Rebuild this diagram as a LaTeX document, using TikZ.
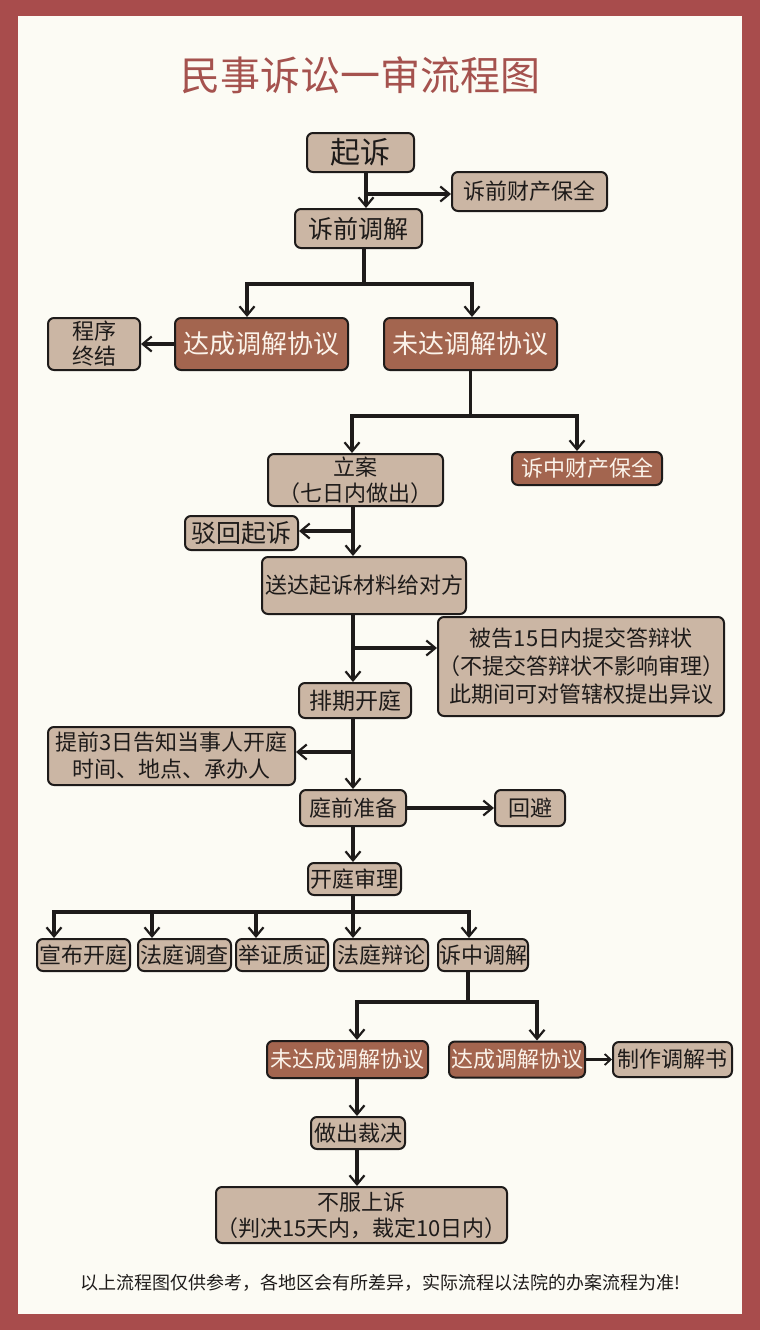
\documentclass[tikz,border=0pt]{standalone}
\usepackage{fontspec}
\setmainfont{Noto Sans CJK SC}
\usetikzlibrary{positioning,arrows.meta}
\definecolor{framered}{HTML}{A84C4C}
\definecolor{paper}{HTML}{FCFBF4}
\definecolor{tanfill}{HTML}{CBB6A4}
\definecolor{brownfill}{HTML}{A3654F}
\definecolor{titlered}{HTML}{A5524E}
\definecolor{ink}{HTML}{1E1B1A}
\definecolor{lighttext}{HTML}{FBF3EA}

\begin{document}
\begin{tikzpicture}[
  x=1pt, y=-1pt, on grid,
  tanbox/.style={draw=ink, line width=2pt, rounded corners=6pt, fill=tanfill, text=ink,
    inner sep=0pt, align=center, font=\fontsize{22}{26}\selectfont},
  brownbox/.style={tanbox, fill=brownfill, text=lighttext},
  wire/.style={draw=ink, line width=3.2pt},
  arr/.style={wire, -{Straight Barb[length=9pt,width=15pt,line width=2.2pt]}},
  thinarr/.style={draw=ink, line width=2.2pt, -{Straight Barb[length=6pt,width=11pt,line width=1.8pt]}}
]
\useasboundingbox (0,0) rectangle (760,1330);
\fill[framered] (0,0) rectangle (760,1330);
\fill[paper] (18,16) rectangle (742,1314);

\node[font=\fontsize{40}{44}\selectfont, text=titlered] (title) at (360,75) {民事诉讼一审流程图};

\node[tanbox, minimum width=107pt, minimum height=39pt, font=\fontsize{30}{32}\selectfont] (qisu) at (360.5,152.5) {起诉};
\node[tanbox, minimum width=155pt, minimum height=39pt, below right=39pt and 169pt of qisu] (sqbq) {诉前财产保全};
\node[tanbox, minimum width=127pt, minimum height=39pt, font=\fontsize{25}{28}\selectfont, below left=76pt and 2pt of qisu] (sqtj) {诉前调解};
\node[brownbox, minimum width=173pt, minimum height=52pt, font=\fontsize{26}{28}\selectfont, below left=115.5pt and 97pt of sqtj] (dacheng) {达成调解协议};
\node[brownbox, minimum width=173pt, minimum height=52pt, font=\fontsize{26}{28}\selectfont, right=209pt of dacheng] (weida) {未达调解协议};
\node[tanbox, minimum width=92pt, minimum height=52pt, font=\fontsize{22}{25}\selectfont, left=167.5pt of dacheng] (zhongjie) {程序\\终结};
\node[tanbox, minimum width=175pt, minimum height=52pt, below left=136pt and 115pt of weida] (lian) {立案\\（七日内做出）};
\node[brownbox, minimum width=150pt, minimum height=33pt, below right=124.5pt and 116.5pt of weida] (szbq) {诉中财产保全};
\node[tanbox, minimum width=113pt, minimum height=34pt, font=\fontsize{25}{28}\selectfont, below left=53pt and 114pt of lian] (bohui) {驳回起诉};
\node[tanbox, minimum width=204pt, minimum height=57pt, below right=105.5pt and 8.5pt of lian] (songda) {送达起诉材料给对方};
\node[tanbox, minimum width=278pt, minimum height=99pt, font=\fontsize{22}{28}\selectfont, below right=81pt and 217pt of songda] (beigao) {被告15日内提交答辩状\\（不提交答辩状不影响审理）\\此期间可对管辖权提出异议};
\node[tanbox, minimum width=112pt, minimum height=35pt, font=\fontsize{23}{26}\selectfont, below left=115pt and 9pt of songda] (paiqi) {排期开庭};
\node[tanbox, minimum width=247pt, minimum height=58pt, font=\fontsize{22}{27}\selectfont, below left=55.5pt and 183.5pt of paiqi] (tiqian) {提前3日告知当事人开庭\\时间、地点、承办人};
\node[tanbox, minimum width=106pt, minimum height=36pt, below left=107.5pt and 2pt of paiqi] (tingqian) {庭前准备};
\node[tanbox, minimum width=70pt, minimum height=36pt, right=177pt of tingqian] (huibi) {回避};
\node[tanbox, minimum width=93pt, minimum height=32pt, below right=71pt and 1.5pt of tingqian] (kaiting) {开庭审理};

\node[tanbox, minimum width=94pt, minimum height=32pt, below right=76pt and 26.5pt of kaiting] (bianlun) {法庭辩论};
\node[tanbox, minimum width=92pt, minimum height=32pt, left=99pt of bianlun] (juzheng) {举证质证};
\node[tanbox, minimum width=93pt, minimum height=32pt, left=97.5pt of juzheng] (diaocha) {法庭调查};
\node[tanbox, minimum width=93pt, minimum height=32pt, left=101pt of diaocha] (xuanbu) {宣布开庭};
\node[tanbox, minimum width=90pt, minimum height=32pt, right=102pt of bianlun] (szdj) {诉中调解};

\node[brownbox, minimum width=161pt, minimum height=37pt, below left=104.5pt and 135.5pt of szdj] (weidacheng) {未达成调解协议};
\node[brownbox, minimum width=136pt, minimum height=36pt, right=169.5pt of weidacheng] (dacheng2) {达成调解协议};
\node[tanbox, minimum width=119pt, minimum height=35pt, right=155.5pt of dacheng2] (zhizuo) {制作调解书};
\node[tanbox, minimum width=94pt, minimum height=32pt, below right=73.5pt and 10.5pt of weidacheng] (caijue) {做出裁决};
\node[tanbox, minimum width=291pt, minimum height=56pt, below right=82pt and 3.5pt of caijue] (shangsu) {不服上诉\\（判决15天内，裁定10日内）};

\node[font=\fontsize{18}{20}\selectfont, text=ink] (note) at (380,1283) {以上流程图仅供参考，各地区会有所差异，实际流程以法院的办案流程为准!};

% junctions
\coordinate (j1) at ([xshift=5.5pt,yshift=-21pt]qisu.south);
\coordinate (j2) at ([xshift=5.5pt,yshift=-35pt]sqtj.south);
\coordinate (j3) at ([yshift=-45pt]weida.south);
\coordinate (j4) at ([xshift=-2.5pt,yshift=-24pt]lian.south);
\coordinate (j5) at ([xshift=-11pt,yshift=-33pt]songda.south);
\coordinate (j6) at ([xshift=-2pt,yshift=-33pt]paiqi.south);
\coordinate (j7) at ([xshift=-1.5pt,yshift=-16pt]kaiting.south);
\coordinate (j8) at ([xshift=-15pt,yshift=-30pt]szdj.south);

\draw[arr] (j1 |- qisu.south) -- (j1 |- sqtj.north);
\draw[arr] (j1) -- (j1 -| sqbq.west);

\draw[wire] (j2 |- sqtj.south) -- (j2);
\draw[arr] (j2) -| ([xshift=-14.5pt]dacheng.north);
\draw[arr] (j2) -| ([xshift=1.5pt]weida.north);
\path (dacheng) edge[arr] (zhongjie);

\draw[wire] (weida.south) -- (j3);
\draw[arr] (j3) -| ([xshift=-3.5pt]lian.north);
\draw[arr] (j3) -| ([xshift=-10pt]szbq.north);

\draw[arr] (j4 |- lian.south) -- (j4 |- songda.north);
\draw[arr] (j4) -- (j4 -| bohui.east);

\draw[arr] (j5 |- songda.south) -- (j5 |- paiqi.north);
\draw[arr] (j5) -- (j5 -| beigao.west);

\draw[arr] (j6 |- paiqi.south) -- (j6 |- tingqian.north);
\draw[arr] (j6) -- (j6 -| tiqian.east);

\path (tingqian) edge[arr] (huibi);
\draw[arr] (tingqian.south) -- (tingqian.south |- kaiting.north);

\draw[wire] (j7 |- kaiting.south) -- (j7);
\draw[arr] (j7) -| ([xshift=-29.5pt]xuanbu.north);
\draw[arr] (j7) -| ([xshift=-32.5pt]diaocha.north);
\draw[arr] (j7) -| ([xshift=-26pt]juzheng.north);
\draw[arr] (j7) -- (j7 |- bianlun.north);
\draw[arr] (j7) -| ([xshift=-14pt]szdj.north);

\draw[wire] (j8 |- szdj.south) -- (j8);
\draw[arr] (j8) -| ([xshift=9.5pt]weidacheng.north);
\draw[arr] (j8) -| ([xshift=20pt]dacheng2.north);
\path (dacheng2) edge[thinarr] (zhizuo);

\draw[arr] ([xshift=9.5pt]weidacheng.south) -- ([xshift=-1pt]caijue.north);
\draw[arr] ([xshift=-1pt]caijue.south) -- ([xshift=-4.5pt]shangsu.north);

\end{tikzpicture}
\end{document}
